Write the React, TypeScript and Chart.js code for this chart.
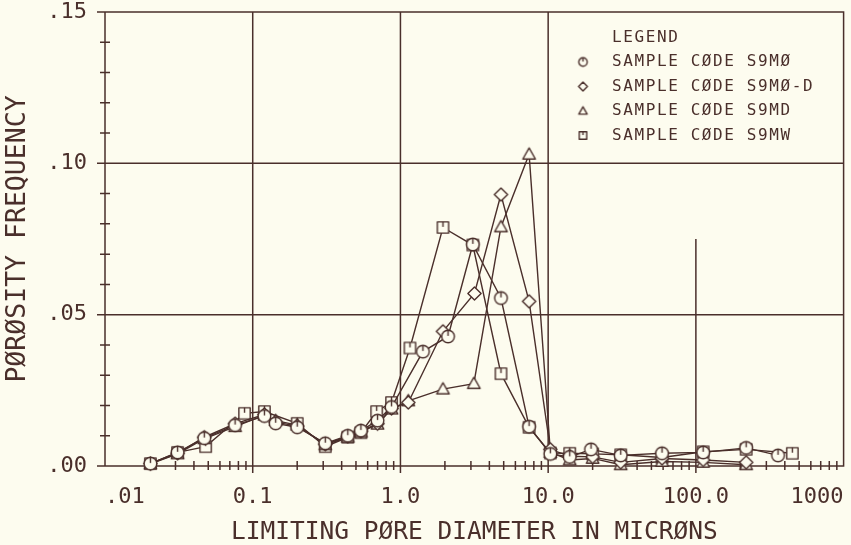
import React, { useEffect, useRef } from 'react';
import { Chart, registerables } from 'chart.js';

Chart.register(...registerables);

const INK = '#4a2f2b';
const BG = '#fdfcef';
const FONT = '"DejaVu Sans Mono", "Liberation Mono", monospace';

// axis ticks
const xTickValues = [0.01, 0.1, 1, 10, 100, 1000];
const xTickLabels = ['.01', '0.1', '1.0', '10.0', '100.0', '1000'];
const yTickValues = [0, 0.05, 0.1, 0.15];
const yTickLabels = ['.00', '.05', '.10', '.15'];
const xGridValues = [0.1, 1, 10];
const yGridValues = [0.05, 0.1];

const seriesNames = [
  'SAMPLE CØDE S9MØ',
  'SAMPLE CØDE S9MØ-D',
  'SAMPLE CØDE S9MD',
  'SAMPLE CØDE S9MW',
];

// S9MØ (circle)
const s9moX = [0.0203, 0.031, 0.047, 0.076, 0.12, 0.143, 0.2, 0.31, 0.44, 0.54, 0.7, 0.87, 1.42, 2.1, 3.09, 4.79, 7.43, 10.35, 14, 19.5, 31, 59, 112, 219, 360];
const s9moY = [0.0008, 0.0045, 0.0092, 0.0135, 0.0165, 0.0141, 0.0128, 0.0075, 0.0100, 0.0117, 0.0150, 0.0195, 0.0378, 0.0428, 0.0732, 0.0555, 0.0130, 0.0040, 0.0030, 0.0055, 0.0035, 0.0042, 0.0045, 0.0060, 0.0035];

// S9MØ-D (diamond)
const s9modX = [0.0203, 0.031, 0.047, 0.076, 0.12, 0.143, 0.2, 0.31, 0.44, 0.54, 0.7, 0.87, 1.13, 1.94, 3.17, 4.79, 7.43, 10.35, 14, 20, 31, 59, 112, 219];
const s9modY = [0.0008, 0.0042, 0.0095, 0.0140, 0.0170, 0.0145, 0.0132, 0.0072, 0.0098, 0.0115, 0.0140, 0.0190, 0.0210, 0.0445, 0.0570, 0.0897, 0.0544, 0.0055, 0.0032, 0.0030, 0.0012, 0.0025, 0.0020, 0.0012];

// S9MD (triangle)
const s9mdX = [0.0203, 0.031, 0.047, 0.076, 0.12, 0.143, 0.2, 0.31, 0.44, 0.54, 0.7, 0.87, 1.13, 1.94, 3.14, 4.79, 7.43, 10.35, 14, 20, 31, 59, 112, 219];
const s9mdY = [0.0007, 0.0040, 0.0090, 0.0130, 0.0168, 0.0150, 0.0135, 0.0070, 0.0095, 0.0112, 0.0138, 0.0188, 0.0215, 0.0254, 0.0272, 0.0790, 0.1030, 0.0045, 0.0020, 0.0025, 0.0004, 0.0015, 0.0012, 0.0004];

// S9MW (square)
const s9mwX = [0.0203, 0.031, 0.048, 0.088, 0.12, 0.2, 0.31, 0.44, 0.54, 0.69, 0.87, 1.16, 1.94, 3.09, 4.79, 7.43, 10.35, 14, 20, 31, 59, 112, 219, 450];
const s9mwY = [0.0008, 0.0045, 0.0064, 0.0174, 0.0180, 0.0141, 0.0064, 0.0095, 0.0110, 0.0180, 0.0210, 0.0390, 0.0788, 0.0730, 0.0305, 0.0128, 0.0043, 0.0042, 0.0040, 0.0037, 0.0028, 0.0047, 0.0055, 0.0042];

// partial reference line at 100 microns
const refLineX = [100, 100];
const refLineY = [0, 0.075];

const toPoints = (xs: number[], ys: number[]) => xs.map((x, i) => ({ x, y: ys[i] }));

type Kind = 'circle' | 'diamond' | 'triangle' | 'square';

function makeMarker(kind: Kind, s: number): HTMLCanvasElement {
  const size = Math.ceil(s * 2 + 4);
  const c = document.createElement('canvas');
  c.width = size;
  c.height = size;
  const g = c.getContext('2d')!;
  const m = size / 2;
  g.strokeStyle = INK;
  g.fillStyle = BG;
  g.lineWidth = 1.4;
  g.lineJoin = 'round';
  g.beginPath();
  if (kind === 'circle') {
    g.arc(m, m, s, 0, Math.PI * 2);
  } else if (kind === 'square') {
    g.rect(m - s * 0.9, m - s * 0.9, s * 1.8, s * 1.8);
  } else if (kind === 'diamond') {
    g.moveTo(m, m - s * 1.05);
    g.lineTo(m + s * 1.05, m);
    g.lineTo(m, m + s * 1.05);
    g.lineTo(m - s * 1.05, m);
    g.closePath();
  } else {
    g.moveTo(m, m - s);
    g.lineTo(m + s, m + s * 0.75);
    g.lineTo(m - s, m + s * 0.75);
    g.closePath();
  }
  g.fill();
  g.stroke();
  if (kind === 'circle' || kind === 'square') {
    g.beginPath();
    const top = kind === 'circle' ? m - s : m - s * 0.9;
    g.moveTo(m, top);
    g.lineTo(m, m - s * 0.1);
    g.stroke();
  }
  return c;
}

const zeroPadding = (s: any) => {
  s.paddingTop = 0;
  s.paddingBottom = 0;
  s.paddingLeft = 0;
  s.paddingRight = 0;
};

export default function App() {
  const ref = useRef<HTMLCanvasElement>(null);

  useEffect(() => {
    document.body.style.margin = '0';
    document.body.style.background = BG;
    const kinds: Kind[] = ['circle', 'diamond', 'triangle', 'square'];
    const plotMarkers = kinds.map((k) => makeMarker(k, 6.3));
    const legendMarkers = kinds.map((k) => makeMarker(k, 4.2));

    const framePlugin = {
      id: 'frame',
      beforeDatasetsDraw(chart: any) {
        const { ctx, chartArea: a, scales } = chart;
        const xs = scales.x;
        const ys = scales.y;
        ctx.save();
        ctx.strokeStyle = INK;
        ctx.lineWidth = 1.5;
        ctx.beginPath();
        ctx.rect(a.left, a.top, a.right - a.left, a.bottom - a.top);
        xGridValues.forEach((v) => {
          const px = xs.getPixelForValue(v);
          ctx.moveTo(px, a.top);
          ctx.lineTo(px, a.bottom + 7);
        });
        yGridValues.forEach((v) => {
          const py = ys.getPixelForValue(v);
          ctx.moveTo(a.left - 8, py);
          ctx.lineTo(a.right, py);
        });
        [0, 0.15].forEach((v) => {
          const py = ys.getPixelForValue(v);
          ctx.moveTo(a.left - 8, py);
          ctx.lineTo(a.left, py);
        });
        for (let d = 0.01; d < 999; d *= 10) {
          for (let k = 2; k <= 9; k++) {
            const px = xs.getPixelForValue(d * k);
            if (px > a.right) continue;
            ctx.moveTo(px, a.bottom - 5);
            ctx.lineTo(px, a.bottom + 4);
          }
        }
        const px100 = xs.getPixelForValue(100);
        ctx.moveTo(px100, a.bottom);
        ctx.lineTo(px100, a.bottom + 7);
        for (let i = 1; i < 15; i++) {
          if (i % 5 === 0) continue;
          const py = ys.getPixelForValue(i / 100);
          ctx.moveTo(a.left - 5, py);
          ctx.lineTo(a.left + 5, py);
        }
        ctx.stroke();
        ctx.restore();
      },
    };

    const legendPlugin = {
      id: 'plotLegend',
      afterDraw(chart: any) {
        const ctx = chart.ctx;
        ctx.save();
        ctx.fillStyle = INK;
        ctx.font = `16px ${FONT}`;
        (ctx as any).letterSpacing = '1.6px';
        ctx.textBaseline = 'middle';
        ctx.textAlign = 'left';
        ctx.fillText('LEGEND', 612, 38);
        seriesNames.forEach((name, i) => {
          const y = 62 + i * 24.5;
          const im = legendMarkers[i];
          ctx.drawImage(im, 583 - im.width / 2, y - im.height / 2);
          ctx.fillText(name, 612, y);
        });
        ctx.restore();
      },
    };

    const lineDs = (xs: number[], ys: number[], i: number) => ({
      label: seriesNames[i],
      data: toPoints(xs, ys),
      showLine: true,
      borderColor: INK,
      borderWidth: 1.4,
      pointStyle: plotMarkers[i],
      pointRadius: 6,
      clip: false as any,
    });

    const chart = new Chart(ref.current!, {
      type: 'scatter',
      data: {
        datasets: [
          lineDs(s9moX, s9moY, 0),
          lineDs(s9modX, s9modY, 1),
          lineDs(s9mdX, s9mdY, 2),
          lineDs(s9mwX, s9mwY, 3),
          {
            label: 'ref',
            data: toPoints(refLineX, refLineY),
            showLine: true,
            borderColor: INK,
            borderWidth: 1.5,
            pointRadius: 0,
          },
        ],
      },
      options: {
        animation: false,
        responsive: false,
        devicePixelRatio: 1,
        layout: { padding: { top: 12, right: 3, left: 0, bottom: 0 } },
        plugins: { legend: { display: false }, tooltip: { enabled: false } },
        scales: {
          x: {
            type: 'logarithmic',
            min: 0.01,
            max: 1000,
            grid: { display: false, drawTicks: false },
            border: { display: false },
            afterBuildTicks: (s: any) => {
              s.ticks = xTickValues.map((v) => ({ value: v }));
            },
            afterFit: (s: any) => {
              s.height = 79;
              zeroPadding(s);
            },
            ticks: {
              autoSkip: false,
              maxRotation: 0,
              minRotation: 0,
              align: 'inner',
              padding: 20,
              color: INK,
              font: { family: FONT, size: 22, lineHeight: 1 },
              callback: (v: any) => {
                const i = xTickValues.findIndex((t) => Math.abs(Math.log10(t) - Math.log10(Number(v))) < 1e-6);
                return i >= 0 ? xTickLabels[i] : '';
              },
            },
            title: {
              display: true,
              text: 'LIMITING PØRE DIAMETER IN MICRØNS',
              color: INK,
              font: { family: FONT, size: 24.5, lineHeight: 1 },
              padding: { top: 0, bottom: 0 },
            },
          },
          y: {
            type: 'linear',
            min: 0,
            max: 0.15,
            grid: { display: false, drawTicks: false },
            border: { display: false },
            afterBuildTicks: (s: any) => {
              s.ticks = yTickValues.map((v) => ({ value: v }));
            },
            afterFit: (s: any) => {
              s.width = 105;
              zeroPadding(s);
            },
            ticks: {
              padding: 18,
              color: INK,
              font: { family: FONT, size: 22, lineHeight: 1 },
              callback: (v: any) => {
                const i = yTickValues.findIndex((t) => Math.abs(t - Number(v)) < 1e-9);
                return i >= 0 ? yTickLabels[i] : '';
              },
            },
            title: {
              display: true,
              text: 'PØRØSITY FREQUENCY',
              color: INK,
              font: { family: FONT, size: 26.5, lineHeight: 1 },
              padding: { top: 5, bottom: 0 },
            },
          },
        },
      } as any,
      plugins: [framePlugin, legendPlugin],
    });
    return () => chart.destroy();
  }, []);

  return (
    <div style={{ width: 851, height: 545, background: BG }}>
      <canvas ref={ref} width={851} height={545} style={{ display: 'block' }} />
    </div>
  );
}
